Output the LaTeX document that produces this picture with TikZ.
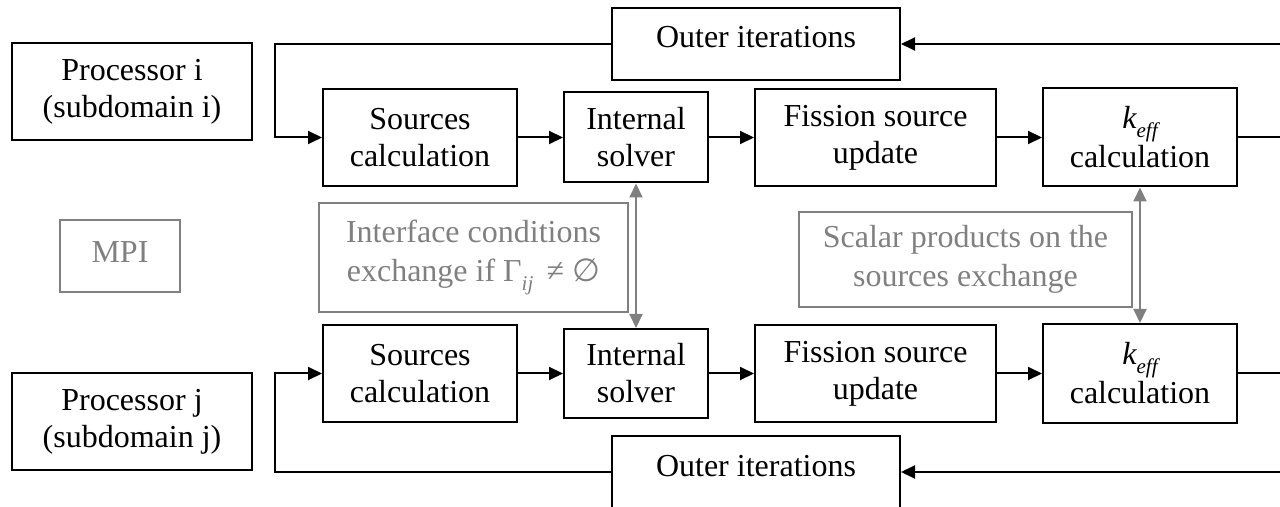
\documentclass[tikz,border=0pt]{standalone}
\usepackage{fontspec}
\setmainfont{Liberation Serif}
\newfontfamily\dvsans{DejaVu Sans}
\usetikzlibrary{arrows.meta}
\definecolor{mygray}{RGB}{128,128,128}
\newcommand{\mysub}[1]{\raisebox{-9bp}{\fontsize{21bp}{21bp}\selectfont\itshape #1}}
\tikzset{
  box/.style={draw=black, line width=2bp, inner sep=0pt, align=center,
    font=\fontsize{32bp}{37bp}\selectfont},
  gbox/.style={draw=mygray, line width=2bp, inner sep=0pt, align=center, text=mygray,
    font=\fontsize{32bp}{39bp}\selectfont},
  conn/.style={draw=black, line width=2bp},
  arr/.style={conn, -{Triangle[length=14bp,width=13bp]}},
  garr/.style={draw=mygray, line width=2bp, {Triangle[length=14bp,width=13bp]}-{Triangle[length=14bp,width=13bp]}},
  outerbox/.style={box, minimum width=288bp, minimum height=72bp, text height=22bp, text depth=14bp}
}
\begin{document}
\begin{tikzpicture}[x=1bp, y=-1bp]
\useasboundingbox (0,0) rectangle (1280,507);

% left processor boxes
\node[box, minimum width=240bp, minimum height=97bp] (pi) at (132,91.5) {Processor i\\(subdomain i)};
\node[box, minimum width=240bp, minimum height=97bp] (pj) at (132,421.5) {Processor j\\(subdomain j)};
\node[gbox, minimum width=120bp, minimum height=72bp, text height=22bp, text depth=8bp] (mpi) at (120,256) {MPI};

% outer iteration boxes
\node[outerbox] (outT) at (756,44) {Outer iterations};
\node[outerbox] (outB) at (756,472) {Outer iterations};

% top row
\node[box, minimum width=194bp, minimum height=97bp] (srcT) at (420,137.5) {Sources\\calculation};
\node[box, minimum width=144bp, minimum height=90bp] (intT) at (636,137.5) {Internal\\solver};
\node[box, minimum width=241bp, minimum height=97bp] (fisT) at (875.5,137.5) {Fission source\\update};
\node[box, minimum width=194bp, minimum height=98bp] (kT) at (1140,137.5) {{\itshape k}\mysub{eff}\\[2bp]calculation};

% bottom row
\node[box, minimum width=194bp, minimum height=96bp] (srcB) at (420,373.5) {Sources\\calculation};
\node[box, minimum width=144bp, minimum height=89bp] (intB) at (636,373.5) {Internal\\solver};
\node[box, minimum width=241bp, minimum height=96bp] (fisB) at (875.5,373.5) {Fission source\\update};
\node[box, minimum width=194bp, minimum height=99bp] (kB) at (1140,373.5) {{\itshape k}\mysub{eff}\\[2bp]calculation};

% gray exchange boxes
\node[gbox, minimum width=309bp, minimum height=109bp] (ifc) at (473.5,257.5)
  {Interface conditions\\exchange if \char"0393\mysub{ij}\, \char"2260\ {\dvsans\char"2205}};
\node[gbox, minimum width=333bp, minimum height=95bp] (sca) at (965.5,259.5)
  {Scalar products on the\\sources exchange};

% coordinates for loop corners and free ends
\coordinate (lt) at (275,44);
\coordinate (lb) at (275,472);
\coordinate (rt) at (1280,44);
\coordinate (rb) at (1280,472);

% top chain
\draw[arr] (srcT.east) -- (intT.west);
\draw[arr] (intT.east) -- (fisT.west);
\draw[arr] (fisT.east) -- (kT.west);
\draw[conn] (kT.east) -- (kT.east -| rt);
\draw[arr] (rt) -- (outT.east);
\draw[arr] (outT.west) -- (lt) |- (srcT.west);

% bottom chain
\draw[arr] (srcB.east) -- (intB.west);
\draw[arr] (intB.east) -- (fisB.west);
\draw[arr] (fisB.east) -- (kB.west);
\draw[conn] (kB.east) -- (kB.east -| rb);
\draw[arr] (rb) -- (outB.east);
\draw[arr] (outB.west) -- (lb) |- (srcB.west);

% exchanges
\draw[garr] (intT.south) -- (intB.north);
\draw[garr] (kT.south) -- (kB.north);
\end{tikzpicture}
\end{document}
